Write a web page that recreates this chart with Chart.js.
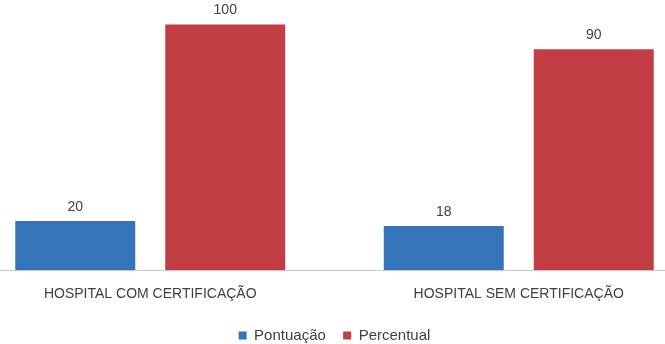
<!DOCTYPE html>
<html>
<head>
<meta charset="utf-8">
<script src="https://cdn.jsdelivr.net/npm/chart.js@4/dist/chart.umd.min.js"></script>
<style>
  html, body { margin: 0; padding: 0; background: #fff; overflow: hidden; height: 344px; }
  #wrap { position: relative; width: 737px; height: 353px; margin-left: -34px; }
</style>
</head>
<body>
<div id="wrap"><canvas id="myChart"></canvas></div>
<script>
// dados
var categorias = ['HOSPITAL COM CERTIFICAÇÃO', 'HOSPITAL SEM CERTIFICAÇÃO'];
var pontuacao = [20, 18];
var percentual = [100, 90];

var corAzul = '#3574b8';
var corVermelho = '#c23e44';
var fonte = '"Liberation Sans", Arial, sans-serif';

// escreve o valor em cima de cada barra
var rotulosValores = {
    id: 'rotulosValores',
    afterDatasetsDraw: function (chart) {
        var c = chart.ctx;
        c.save();
        c.font = '14px ' + fonte;
        c.fillStyle = '#404040';
        c.textAlign = 'center';
        c.textBaseline = 'bottom';
        chart.data.datasets.forEach(function (ds, i) {
            chart.getDatasetMeta(i).data.forEach(function (bar, j) {
                c.fillText(ds.data[j], bar.x, bar.y - 7);
            });
        });
        c.restore();
    }
};

var ctx = document.getElementById('myChart').getContext('2d');
var myChart = new Chart(ctx, {
    type: 'bar',
    data: {
        labels: categorias,
        datasets: [{
            label: 'Pontuação',
            data: pontuacao,
            backgroundColor: corAzul,
            barPercentage: 0.8,
            categoryPercentage: 0.814
        },
        {
            label: 'Percentual',
            data: percentual,
            backgroundColor: corVermelho,
            barPercentage: 0.8,
            categoryPercentage: 0.814
        }]
    },
    options: {
        responsive: true,
        maintainAspectRatio: false,
        animation: false,
        layout: { padding: 0 },
        plugins: {
            tooltip: { enabled: false },
            legend: {
                position: 'bottom',
                labels: {
                    boxWidth: 8,
                    boxHeight: 8,
                    padding: 9,
                    color: '#404040',
                    font: { size: 15, family: fonte },
                    // um pouco mais de espaço entre os itens
                    generateLabels: function (chart) {
                        var itens = Chart.defaults.plugins.legend.labels.generateLabels(chart);
                        itens[0].text += '  ';
                        return itens;
                    }
                }
            }
        },
        scales: {
            x: {
                grid: { display: false, drawTicks: false },
                border: { display: true, color: '#c8c8c8', width: 1 },
                ticks: {
                    padding: 16,
                    color: '#404040',
                    font: { size: 14, family: fonte }
                }
            },
            y: {
                display: false,
                min: 0,
                max: 110
            }
        }
    },
    plugins: [rotulosValores]
});
</script>
</body>
</html>
